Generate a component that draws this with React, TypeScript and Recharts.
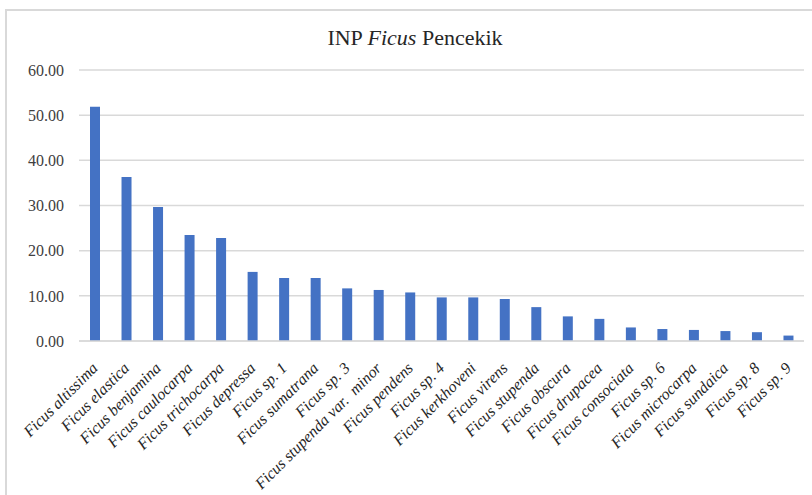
import { BarChart, Bar, XAxis, YAxis, CartesianGrid } from 'recharts';

const species = [
  'Ficus altissima',
  'Ficus elastica',
  'Ficus benjamina',
  'Ficus caulocarpa',
  'Ficus trichocarpa',
  'Ficus depressa',
  'Ficus sp. 1',
  'Ficus sumatrana',
  'Ficus sp. 3',
  'Ficus stupenda var.  minor',
  'Ficus pendens',
  'Ficus sp. 4',
  'Ficus kerkhoveni',
  'Ficus virens',
  'Ficus stupenda',
  'Ficus obscura',
  'Ficus drupacea',
  'Ficus consociata',
  'Ficus sp. 6',
  'Ficus microcarpa',
  'Ficus sundaica',
  'Ficus sp. 8',
  'Ficus sp. 9',
];

const inp = [
  51.85, 36.3, 29.65, 23.45, 22.8, 15.3, 13.95, 13.95, 11.65, 11.3, 10.75, 9.65,
  9.65, 9.3, 7.5, 5.45, 4.9, 3.0, 2.65, 2.45, 2.2, 1.95, 1.2,
];

const yTicks = [0, 10, 20, 30, 40, 50, 60];

const data = species.map((name, i) => ({ name, value: inp[i] }));

const FONT = '"Liberation Serif", "Times New Roman", serif';
const GRID = '#d9d9d9';

function SpeciesTick({ x, y, payload }: any) {
  const tx = x + 4;
  const ty = y + 20;
  return (
    <text
      x={tx}
      y={ty}
      transform={`rotate(-45, ${tx}, ${ty})`}
      textAnchor="end"
      fontFamily={FONT}
      fontStyle="italic"
      fontSize={16}
      fill="#262626"
      style={{ whiteSpace: 'pre' }}
    >
      {payload.value}
    </text>
  );
}

export default function App() {
  return (
    <div
      style={{
        position: 'absolute',
        left: 0,
        top: 0,
        width: 812,
        height: 495,
        overflow: 'hidden',
        background: '#fff',
      }}
    >
      <div
        style={{
          position: 'absolute',
          left: 5,
          top: 9,
          width: 830,
          height: 520,
          border: `2px solid ${GRID}`,
        }}
      />
      <div
        style={{
          position: 'absolute',
          left: 0,
          top: 25,
          width: 830,
          textAlign: 'center',
          fontFamily: FONT,
          fontSize: 22,
          color: '#262626',
        }}
      >
        INP <i>Ficus</i> Pencekik
      </div>
      <div style={{ position: 'absolute', left: 0, top: 0 }}>
        <BarChart
          width={812}
          height={495}
          data={data}
          margin={{ top: 70, right: 8, left: 0, bottom: 0 }}
        >
          <CartesianGrid vertical={false} stroke={GRID} strokeWidth={1.5} />
          <XAxis
            dataKey="name"
            interval={0}
            height={154}
            axisLine={{ stroke: GRID, strokeWidth: 1.5 }}
            tickLine={false}
            tick={<SpeciesTick />}
          />
          <YAxis
            width={79}
            domain={[0, 60]}
            ticks={yTicks}
            axisLine={false}
            tickLine={false}
            tickMargin={9}
            tickFormatter={(v: number) => v.toFixed(2)}
            tick={{ fill: '#404040', fontSize: 16, fontFamily: FONT }}
          />
          <Bar dataKey="value" fill="#4472C4" barSize={10} isAnimationActive={false} />
        </BarChart>
      </div>
    </div>
  );
}
